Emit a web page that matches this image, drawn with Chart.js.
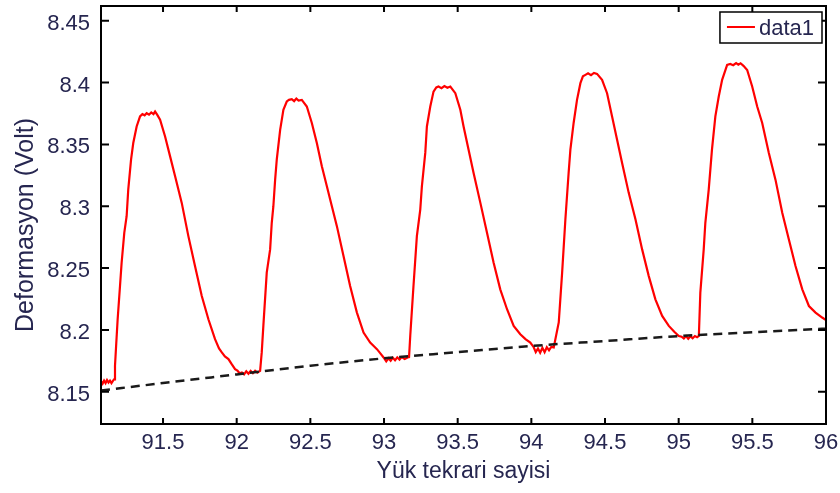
<!DOCTYPE html>
<html><head><meta charset="utf-8">
<script src="https://cdn.jsdelivr.net/npm/chart.js@4/dist/chart.umd.min.js"></script>
<style>html,body{margin:0;padding:0;background:#fff;overflow:hidden}#wrap{width:840px;height:493px}</style>
</head><body><div id="wrap"><canvas id="c" width="840" height="493"></canvas></div>
<script>
const xTitle = 'Yük tekrari sayisi';
const yTitle = 'Deformasyon (Volt)';
const seriesLabel = 'data1';
const trendLabel = 'trend';
const xTicks = [91.5, 92, 92.5, 93, 93.5, 94, 94.5, 95, 95.5, 96];
const yTicks = [8.15, 8.2, 8.25, 8.3, 8.35, 8.4, 8.45];
const xRange = [91.079, 96];
const yRange = [8.1239, 8.4619];

const cycleX = [
 91.080,91.090,91.100,91.110,91.120,91.130,91.140,91.150,91.160,91.168,
 91.174,91.183,91.192,91.208,91.219,91.237,91.253,91.264,91.283,91.298,91.321,91.344,
 91.360,91.375,91.389,91.405,91.420,91.435,91.446,91.460,91.480,91.514,91.548,91.582,
 91.627,91.672,91.717,91.763,91.808,91.853,91.880,91.899,91.920,91.944,91.965,91.989,
 92.005,92.020,92.035,92.050,92.065,92.080,92.095,92.110,92.125,92.140,92.159,
 92.170,92.181,92.204,92.227,92.238,92.249,92.261,92.272,92.295,92.317,92.340,92.355,
 92.374,92.390,92.405,92.420,92.442,92.476,92.510,92.544,92.578,92.612,92.646,92.680,
 92.725,92.770,92.816,92.861,92.906,92.930,92.952,92.975,92.997,93.015,93.030,93.045,
 93.060,93.075,93.090,93.105,93.120,93.140,93.160,93.170,
 93.178,93.200,93.223,93.246,93.257,93.280,93.291,93.314,93.336,93.355,93.370,93.390,
 93.410,93.430,93.450,93.484,93.518,93.540,93.574,93.608,93.654,93.699,93.744,93.789,
 93.835,93.880,93.925,93.960,93.993,94.016,94.030,94.045,94.060,94.075,94.090,94.105,
 94.120,94.135,94.152,
 94.186,94.209,94.231,94.253,94.265,94.287,94.310,94.333,94.350,94.367,94.385,94.405,
 94.425,94.446,94.480,94.514,94.548,94.582,94.616,94.661,94.707,94.752,94.797,94.842,
 94.888,94.933,94.970,95.001,95.020,95.035,95.050,95.065,95.080,95.095,95.110,95.125,95.137,
 95.147,95.170,95.181,95.204,95.226,95.249,95.272,95.295,95.329,95.350,95.370,95.390,
 95.405,95.420,95.440,95.465,95.499,95.533,95.567,95.612,95.657,95.703,95.748,95.793,
 95.839,95.884,95.929,95.974,96.000
];
const deformation = [
 8.1585,8.1565,8.1590,8.1570,8.1595,8.1575,8.1590,8.1570,8.1588,8.1600,
 8.1710,8.1900,8.2086,8.2355,8.2543,8.2785,8.2919,8.3135,8.3377,8.3511,8.3645,8.3726,
 8.3745,8.3735,8.3752,8.3740,8.3758,8.3745,8.3765,8.3740,8.3699,8.3564,8.3403,8.3242,
 8.3027,8.2758,8.2516,8.2274,8.2086,8.1925,8.1850,8.1818,8.1785,8.1764,8.1725,8.1683,
 8.1670,8.1650,8.1656,8.1640,8.1665,8.1645,8.1668,8.1650,8.1670,8.1655,8.1669,
 8.1818,8.2032,8.2463,8.2651,8.2866,8.3000,8.3215,8.3377,8.3618,8.3780,8.3847,8.3860,
 8.3866,8.3850,8.3870,8.3855,8.3860,8.3806,8.3673,8.3511,8.3323,8.3161,8.3000,8.2839,
 8.2597,8.2355,8.2140,8.1979,8.1898,8.1870,8.1844,8.1810,8.1777,8.1745,8.1770,8.1750,
 8.1775,8.1755,8.1778,8.1760,8.1780,8.1765,8.1777,8.1780,
 8.1951,8.2355,8.2758,8.2973,8.3161,8.3431,8.3645,8.3806,8.3927,8.3960,8.3968,8.3955,
 8.3972,8.3958,8.3968,8.3914,8.3780,8.3645,8.3457,8.3269,8.3027,8.2785,8.2543,8.2328,
 8.2167,8.2032,8.1965,8.1925,8.1898,8.1860,8.1820,8.1850,8.1815,8.1855,8.1820,8.1860,
 8.1835,8.1862,8.1858,
 8.2060,8.2463,8.2893,8.3269,8.3457,8.3673,8.3860,8.3995,8.4050,8.4062,8.4075,8.4060,
 8.4078,8.4070,8.4022,8.3914,8.3726,8.3538,8.3350,8.3108,8.2893,8.2651,8.2435,8.2247,
 8.2113,8.2032,8.1985,8.1951,8.1945,8.1930,8.1950,8.1928,8.1948,8.1932,8.1950,8.1940,8.1951,
 8.2301,8.2651,8.2866,8.3135,8.3457,8.3726,8.3887,8.4022,8.4143,8.4150,8.4140,8.4158,
 8.4145,8.4156,8.4135,8.4102,8.3968,8.3806,8.3673,8.3431,8.3215,8.2947,8.2731,8.2516,
 8.2328,8.2193,8.2140,8.2100,8.2080
];
const trendX = [91.079, 91.5, 92, 92.5, 93, 93.5, 94, 94.5, 95, 95.5, 96];
const trendY = [8.1510, 8.1570, 8.1640, 8.1710, 8.1770, 8.1820, 8.1870, 8.1910, 8.1950, 8.1980, 8.2010];

const FONT = "'Liberation Sans', Arial, sans-serif";
const TEXT = '#262650';

const fixedAxis = {
  x: s => { s.height = 69; s.paddingLeft = 0; s.paddingRight = 0; s.paddingTop = 0; s.paddingBottom = 0; },
  y: s => { s.width = 101; s.paddingLeft = 0; s.paddingRight = 0; s.paddingTop = 0; s.paddingBottom = 0; }
};

const framePlugin = {
  id: 'frame',
  afterDraw(chart) {
    const {ctx, chartArea: a, scales: {x, y}} = chart;
    ctx.save();
    ctx.strokeStyle = '#000';
    ctx.lineWidth = 2;
    ctx.beginPath();
    xTicks.forEach(v => {
      const px = x.getPixelForValue(v);
      ctx.moveTo(px, a.bottom); ctx.lineTo(px, a.bottom - 6);
      ctx.moveTo(px, a.top); ctx.lineTo(px, a.top + 6);
    });
    yTicks.forEach(v => {
      const py = y.getPixelForValue(v);
      ctx.moveTo(a.left, py); ctx.lineTo(a.left + 8, py);
      ctx.moveTo(a.right, py); ctx.lineTo(a.right - 8, py);
    });
    ctx.stroke();
    ctx.lineWidth = 2;
    ctx.strokeRect(a.left, a.top, a.right - a.left, a.bottom - a.top);

    // y axis title
    ctx.fillStyle = TEXT;
    ctx.font = "25px " + FONT;
    ctx.textAlign = 'center';
    ctx.textBaseline = 'middle';
    ctx.translate(26, 225);
    ctx.rotate(-Math.PI / 2);
    ctx.fillText(yTitle, 0, 0);
    ctx.setTransform(1, 0, 0, 1, 0, 0);

    // legend
    const ds = chart.data.datasets[0];
    ctx.font = "22px " + FONT;
    const tw = ctx.measureText(ds.label).width;
    const bw = 7 + 28 + 4 + tw + 8, bh = 31;
    const bx = a.right - 4 - bw, by = a.top + 6;
    ctx.fillStyle = '#fff';
    ctx.fillRect(bx, by, bw, bh);
    ctx.strokeStyle = '#000';
    ctx.lineWidth = 1.5;
    ctx.strokeRect(bx, by, bw, bh);
    ctx.strokeStyle = ds.borderColor;
    ctx.lineWidth = 2;
    ctx.beginPath();
    ctx.moveTo(bx + 7, by + 15); ctx.lineTo(bx + 35, by + 15);
    ctx.stroke();
    ctx.fillStyle = TEXT;
    ctx.textAlign = 'left';
    ctx.textBaseline = 'middle';
    ctx.fillText(ds.label, bx + 39, by + 17);
    ctx.restore();
  }
};

new Chart(document.getElementById('c'), {
  type: 'scatter',
  data: {
    datasets: [
      {
        label: seriesLabel,
        data: cycleX.map((v, i) => ({x: v, y: deformation[i]})),
        showLine: true, borderColor: '#ff0000', borderWidth: 2.2,
        pointRadius: 0, tension: 0, order: 1
      },
      {
        label: trendLabel,
        data: trendX.map((v, i) => ({x: v, y: trendY[i]})),
        showLine: true, borderColor: '#1a1a1a', borderWidth: 2.5,
        borderDash: [9, 6], pointRadius: 0, cubicInterpolationMode: 'monotone', order: 0
      }
    ]
  },
  options: {
    responsive: false, animation: false, devicePixelRatio: 1,
    layout: {padding: {left: 0, top: 6, right: 14, bottom: 0}},
    plugins: {legend: {display: false}, tooltip: {enabled: false}},
    scales: {
      x: {
        type: 'linear', min: xRange[0], max: xRange[1],
        grid: {display: false}, border: {display: false},
        afterBuildTicks: s => { s.ticks = xTicks.map(v => ({value: v})); },
        afterFit: fixedAxis.x,
        ticks: {padding: -2, color: TEXT, font: {family: FONT, size: 22}, maxRotation: 0,
                callback: v => String(v)},
        title: {display: true, text: xTitle, color: TEXT, font: {family: FONT, size: 23},
                padding: {top: 0, bottom: 8}}
      },
      y: {
        type: 'linear', min: yRange[0], max: yRange[1],
        grid: {display: false}, border: {display: false},
        afterBuildTicks: s => { s.ticks = yTicks.map(v => ({value: v})); },
        afterFit: fixedAxis.y,
        ticks: {padding: 3, labelOffset: 3, color: TEXT, font: {family: FONT, size: 22},
                callback: v => String(Math.round(v * 100) / 100)}
      }
    }
  },
  plugins: [framePlugin]
});
</script></body></html>
